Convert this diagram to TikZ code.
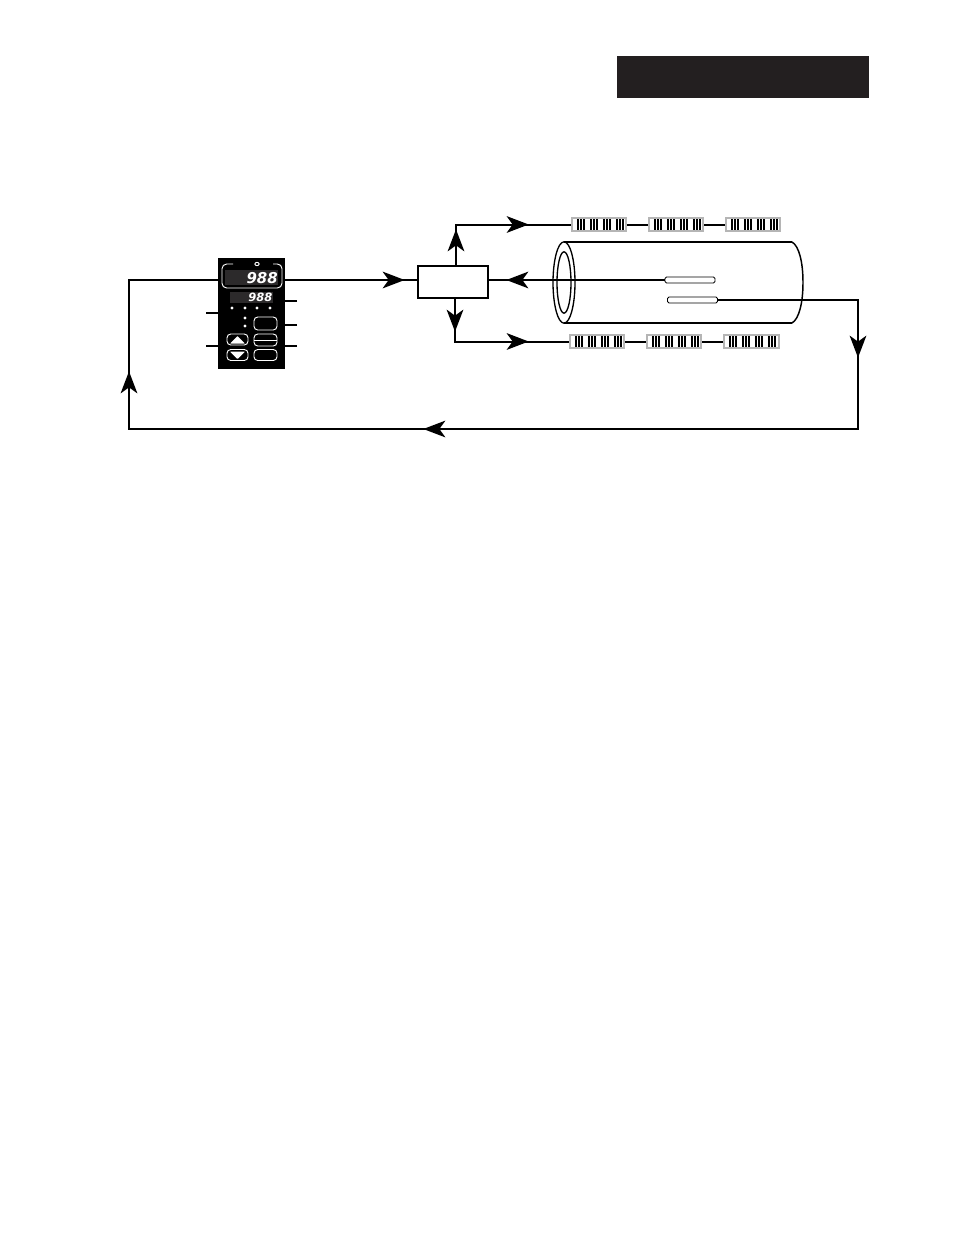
\documentclass[tikz,border=0pt]{standalone}
\usepackage{fontspec}
\setmainfont{Liberation Sans}
\newfontfamily\segfont{DejaVu Sans}
\usetikzlibrary{arrows.meta,shapes.geometric}
\definecolor{ink}{HTML}{231F20}
\definecolor{dispbg}{HTML}{2C2A2B}
\definecolor{htr}{HTML}{B5B5B5}
\tikzset{
  x=0.75pt,y=-0.75pt,
  wire/.style={line width=1.5pt,draw=black,line join=miter},
  thin wire/.style={line width=0.9pt,draw=black},
  kite/.style={wire,-{Stealth[length=16.5pt,width=12.5pt,inset=4.5pt]},shorten >=-0.5pt},
  box/.style={draw=black,line width=1.1pt,fill=white,inner sep=0pt,minimum width=52.5pt,minimum height=24pt},
  heater/.style={draw=htr,line width=1.4pt,fill=white,inner sep=0pt,minimum width=41pt,minimum height=9.4pt,
    path picture={
      \foreach \s in {5,8,11,18,21,24,31,34,37,44,47,50}{
        \fill[black] ([xshift=\s*0.75pt]path picture bounding box.south west) rectangle ++(1.5pt,10pt);
      }}},
  probe/.style={draw=black,line width=0.6pt,fill=white,rounded corners=1.2pt,inner sep=0pt,minimum width=37.5pt,minimum height=4.6pt},
  btn/.style={draw=white,line width=0.7pt,rounded corners=2.8pt,inner sep=0pt},
  led/.style={circle,fill=white,inner sep=0pt,minimum size=2.6pt},
  seg/.style={text=white,inner sep=0pt},
}
\begin{document}
\begin{tikzpicture}
\useasboundingbox (0,0) rectangle (954,1235);
% title block
\node[fill=ink,inner sep=0pt,minimum width=189pt,minimum height=31.5pt] (title) at (743,77) {};

% controller
\node[fill=black,inner sep=0pt,minimum width=50.25pt,minimum height=83.25pt] (ctrl) at (251.5,313.5) {};
\node[fill=dispbg,inner sep=0pt,minimum width=39.75pt,minimum height=11.25pt] (disp1) at (251.5,277.5) {};
\node[fill=dispbg,inner sep=0pt,minimum width=32.25pt,minimum height=8.25pt] (disp2) at (251.5,297.5) {};
\draw[draw=white,line width=0.7pt,rounded corners=3.5pt] (233,264) -- (222,264) -- (222,288) -- (282,288) -- (282,264) -- (273,264);
\node[draw=white,line width=0.7pt,ellipse,inner sep=0pt,minimum width=3.2pt,minimum height=2.4pt] (ind) at (257,264) {};
\node[seg,anchor=east,font=\segfont\fontsize{11.2pt}{12pt}\selectfont\bfseries\itshape] (d1) at (278,277.8) {988};
\node[seg,anchor=east,font=\segfont\fontsize{8.6pt}{9pt}\selectfont\bfseries\itshape] (d2) at (272.5,297.8) {988};
\foreach \n/\x in {a/232,b/245,c/257,e/270}{\node[led] (led\n) at (\x,308) {};}
\node[led] (ledf) at (245,318) {};
\node[led] (ledg) at (245,326) {};
\node[btn,minimum width=17.25pt,minimum height=9.75pt] (b1) at (265.5,323.5) {};
\node[btn,minimum width=17.25pt,minimum height=9pt] (b2) at (265.5,340) {};
\draw[white,line width=0.7pt] (b2.west) -- (b2.east);
\node[btn,minimum width=17.25pt,minimum height=8.25pt] (b3) at (265.5,355) {};
\node[btn,minimum width=15.75pt,minimum height=8.25pt] (b4) at (237.5,339.5) {};
\node[btn,minimum width=15.75pt,minimum height=8.25pt] (b5) at (237.5,355) {};
\fill[white,rounded corners=0.5pt] (230,343.5) -- (237.5,336) -- (245,343.5) -- cycle;
\fill[white,rounded corners=0.5pt] (230,351.5) -- (237.5,359) -- (245,351.5) -- cycle;

% controller ticks
\coordinate (tr1) at (297,301);\coordinate (tr2) at (297,325);\coordinate (tr3) at (297,346);
\coordinate (tl1) at (206,313);\coordinate (tl2) at (206,346);
\draw[thin wire] (tr1) -- (ctrl.east |- tr1);
\draw[thin wire] (tr2) -- (ctrl.east |- tr2);
\draw[thin wire] (tr3) -- (ctrl.east |- tr3);
\draw[thin wire] (tl1) -- (ctrl.west |- tl1);
\draw[thin wire] (tl2) -- (ctrl.west |- tl2);

% tube
\coordinate (tt) at (564,242);\coordinate (tb) at (564,323);
\coordinate (re) at (792,242);\coordinate (rb) at (792,323);
\draw[thin wire] (tt) -- (re);
\draw[thin wire] (tb) -- (rb);
\draw[line width=1.1pt] (re) .. controls (799,246) and (803,262) .. (803,282.5) .. controls (803,303) and (799,319) .. (rb);
\node[draw=black,line width=1pt,ellipse,inner sep=0pt,minimum width=16.5pt,minimum height=61pt] (ringo) at (564,282.5) {};
\node[draw=black,line width=1pt,ellipse,inner sep=0pt,minimum width=10.5pt,minimum height=46pt] (ringi) at (564,282.5) {};

% probes
\node[probe] (p1) at (690,280) {};
\node[probe] (p2) at (692.5,300) {};

% converter box
\node[box] (box) at (453,282) {};

% heaters
\node[heater] (h1) at (599,224.5) {};
\node[heater] (h2) at (676,224.5) {};
\node[heater] (h3) at (753,224.5) {};
\node[heater] (h4) at (597,341.5) {};
\node[heater] (h5) at (674,341.5) {};
\node[heater] (h6) at (751.5,341.5) {};
\draw[wire] (h1) -- (h2);
\draw[wire] (h2) -- (h3);
\draw[wire] (h4) -- (h5);
\draw[wire] (h5) -- (h6);

% arrow tips
\coordinate (c1) at (129,280);
\coordinate (a1) at (129,372);
\coordinate (c2) at (129,429);
\coordinate (a2) at (424,429);
\coordinate (c3) at (858,429);
\coordinate (a3) at (858,357);
\coordinate (c4) at (858,299.5);
\coordinate (a4) at (404,280);
\coordinate (a5) at (507,280);
\coordinate (up) at (456,266);
\coordinate (a6) at (456,230);
\coordinate (c6) at (456,224.5);
\coordinate (a7) at (528,224.5);
\coordinate (dn) at (455,298);
\coordinate (a8) at (455,331);
\coordinate (c8) at (455,341.5);
\coordinate (a9) at (528,341.5);

% feedback loop
\draw[wire] (p2.east |- c4) -- (c4) -- (c3) -- (c2) -- (c1) -- (ctrl.west |- c1);
\draw[kite] (c4) -- (a3);
\draw[kite] (c3) -- (a2);
\draw[kite] (c2) -- (a1);

% controller to box
\draw[wire] (ctrl.east |- a4) -- (box.west |- a4);
\draw[kite] (ctrl.east |- a4) -- (a4);

% probe to box
\draw[wire] (p1.west) -- (box.east |- p1);
\draw[kite] (p1.west) -- (a5);

% box to heaters
\draw[wire] (up) -- (c6) -- (h1.west);
\draw[kite] (up) -- (a6);
\draw[kite] (c6) -- (a7);
\draw[wire] (dn) -- (c8) -- (h4.west);
\draw[kite] (dn) -- (a8);
\draw[kite] (c8) -- (a9);
\end{tikzpicture}
\end{document}
